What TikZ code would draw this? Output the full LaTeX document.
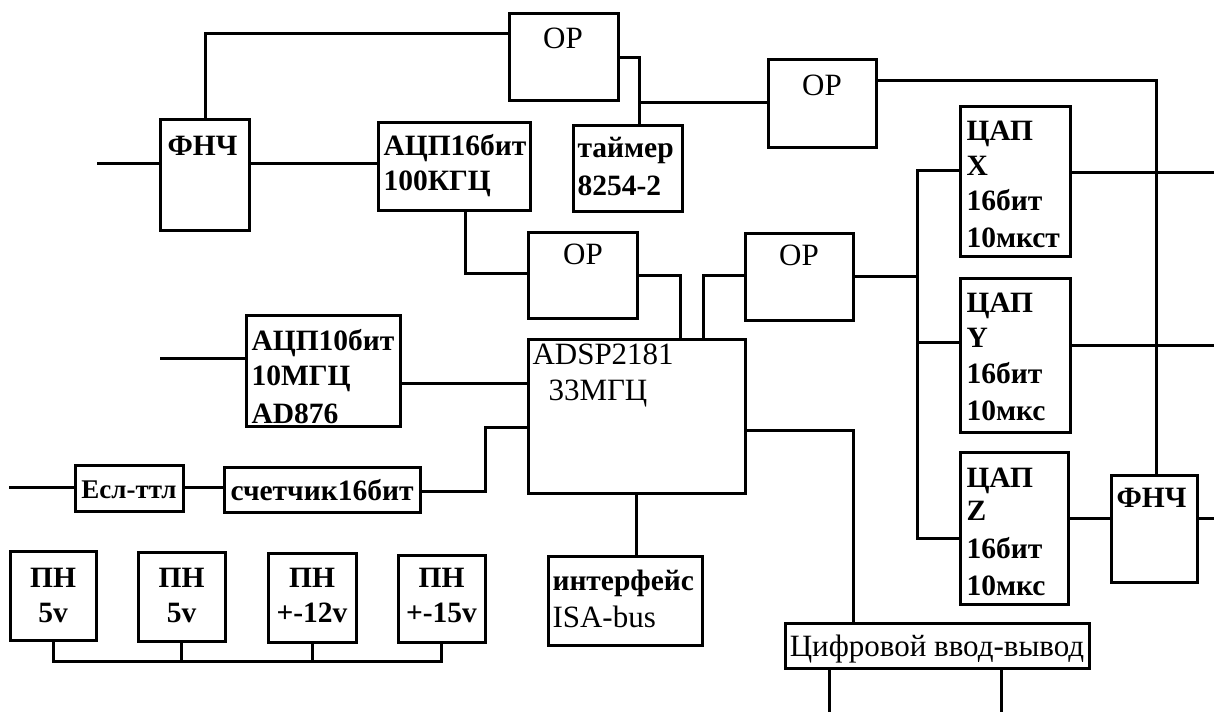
\documentclass[tikz,border=0pt]{standalone}
\usepackage{fontspec}
\setmainfont{Liberation Serif}
\newcommand\mybox[5]{\node[box,anchor=north west,minimum width={(#4-#2)*1pt},minimum height={(#5-#3)*1pt}] (#1) at (#2,#3) {};}
\begin{document}
\begin{tikzpicture}[x=1pt,y=-1pt,line width=3pt,
  box/.style={draw,line width=3pt,inner sep=0pt,outer sep=0pt},
  lbl/.style={inner sep=0pt,font=\fontsize{31}{36}\selectfont},
  blbl/.style={inner sep=0pt,font=\fontsize{29.5}{36}\selectfont\bfseries}]
\useasboundingbox (0,0) rectangle (1214,712);
% boxes
\mybox{op1}{509}{13}{618}{100}
\mybox{op2}{768}{59}{876}{147}
\mybox{op3}{528}{232}{637}{318}
\mybox{op4}{745}{233}{853}{320}
\mybox{fnch1}{160}{119}{249}{230}
\mybox{adc16}{378}{122}{530}{210}
\mybox{timer}{573}{125}{682}{211}
\mybox{dacx}{960}{106}{1070}{256}
\mybox{dacy}{960}{278}{1070}{432}
\mybox{dacz}{960}{452}{1068}{604}
\mybox{fnch2}{1111}{475}{1197}{582}
\mybox{adc10}{246}{315}{400}{426}
\mybox{adsp}{528}{339}{745}{493}
\mybox{ecl}{75}{465}{183}{511}
\mybox{counter}{224}{467}{420}{512}
\mybox{pn1}{10}{551}{96}{640}
\mybox{pn2}{138}{552}{225}{641}
\mybox{pn3}{268}{553}{356}{642}
\mybox{pn4}{398}{555}{485}{642}
\mybox{iface}{548}{556}{702}{645}
\mybox{digio}{785}{623}{1089}{668}
% texts
\node[lbl,anchor=base] (op1t) at (563,48) {OP};
\node[lbl,anchor=base] (op2t) at (822,95) {OP};
\node[lbl,anchor=base] (op3t) at (583,264) {OP};
\node[lbl,anchor=base] (op4t) at (799,265) {OP};
\node[blbl,anchor=base west] (fnch1t) at (166,155) {ФНЧ};
\node[blbl,anchor=base west] (adc16a) at (382,155) {АЦП16бит};
\node[blbl,anchor=base west] (adc16b) at (382,190) {100КГЦ};
\node[blbl,anchor=base west] (timera) at (576,157) {таймер};
\node[blbl,anchor=base west] (timerb) at (576,195) {8254-2};
\node[blbl,anchor=base west] (dacxa) at (965,140) {ЦАП};
\node[blbl,anchor=base west] (dacxb) at (965,175) {X};
\node[blbl,anchor=base west] (dacxc) at (965,210) {16бит};
\node[blbl,anchor=base west] (dacxd) at (965,247) {10мкст};
\node[blbl,anchor=base west] (dacya) at (965,312) {ЦАП};
\node[blbl,anchor=base west] (dacyb) at (965,347) {Y};
\node[blbl,anchor=base west] (dacyc) at (965,383) {16бит};
\node[blbl,anchor=base west] (dacyd) at (965,420) {10мкс};
\node[blbl,anchor=base west] (dacza) at (965,487) {ЦАП};
\node[blbl,anchor=base west] (daczb) at (965,520) {Z};
\node[blbl,anchor=base west] (daczc) at (965,558) {16бит};
\node[blbl,anchor=base west] (daczd) at (965,595) {10мкс};
\node[blbl,anchor=base west] (fnch2t) at (1115,507) {ФНЧ};
\node[blbl,anchor=base west] (adc10a) at (250,350) {АЦП10бит};
\node[blbl,anchor=base west] (adc10b) at (250,385) {10МГЦ};
\node[blbl,anchor=base west] (adc10c) at (250,423) {AD876};
\node[lbl,anchor=base west] (adspa) at (531,364) {ADSP2181};
\node[lbl,anchor=base west] (adspb) at (547,400) {33МГЦ};
\node[blbl,anchor=base,font=\fontsize{27}{36}\selectfont\bfseries] (eclt) at (129,498) {Есл-ттл};
\node[blbl,anchor=base west] (countert) at (229,500) {счетчик16бит};
\node[blbl,anchor=base] (pn1a) at (53,587) {ПН};
\node[blbl,anchor=base] (pn1b) at (53,622) {5v};
\node[blbl,anchor=base] (pn2a) at (181.5,587) {ПН};
\node[blbl,anchor=base] (pn2b) at (181.5,622) {5v};
\node[blbl,anchor=base] (pn3a) at (312,587) {ПН};
\node[blbl,anchor=base] (pn3b) at (312,622) {+-12v};
\node[blbl,anchor=base] (pn4a) at (441.5,587) {ПН};
\node[blbl,anchor=base] (pn4b) at (441.5,622) {+-15v};
\node[blbl,anchor=base west] (ifacea) at (551,590) {интерфейс};
\node[lbl,anchor=base west] (ifaceb) at (551,627) {ISA-bus};
\node[lbl,anchor=base] (digiot) at (937,656) {Цифровой ввод-вывод};
% coordinates
\coordinate (in1) at (97,163);
\coordinate (in2) at (160,358);
\coordinate (in3) at (9,487);
\coordinate (j1) at (639,102);
\coordinate (busT) at (917,170);
\coordinate (busY) at (917,342);
\coordinate (busB) at (917,538);
\coordinate (busIn) at (917,276);
\coordinate (oX) at (1214,172);
\coordinate (oY) at (1214,345);
\coordinate (oF) at (1214,518);
\coordinate (d1) at (829,712);
\coordinate (d2) at (1001,712);
\coordinate (pnl) at (53,661);
\coordinate (cb1) at (485,491);
\coordinate (cb2) at (485,427);
% wires
\draw (in1) -- (fnch1.west |- in1);
\draw (fnch1.east |- in1) -- (adc16.west |- in1);
\draw (fnch1.north -| 205,0) |- (op1.west |- 0,33);
\draw (op1.east |- 0,57) -| (timer.north -| 639,0);
\draw (j1) -- (op2.west |- j1);
\draw (op2.east |- 0,80) -| (fnch2.north -| 1156,0);
\draw (adc16.south -| 465,0) |- (op3.west |- 0,273);
\draw (op3.east |- 0,275) -| (adsp.north -| 680,0);
\draw (adsp.north -| 703,0) |- (op4.west |- 0,275);
\draw (op4.east |- busIn) -- (busIn);
\draw (dacx.west |- busT) -- (busT) -- (busB) -- (dacz.west |- busB);
\draw (busY) -- (dacy.west |- busY);
\draw (dacx.east |- oX) -- (oX);
\draw (dacy.east |- oY) -- (oY);
\draw (dacz.east |- oF) -- (fnch2.west |- oF);
\draw (fnch2.east |- oF) -- (oF);
\draw (in2) -- (adc10.west |- in2);
\draw (adc10.east |- 0,383) -- (adsp.west |- 0,383);
\draw (in3) -- (ecl.west |- in3);
\draw (ecl.east |- in3) -- (counter.west |- in3);
\draw (counter.east |- cb1) -- (cb1) -- (cb2) -- (adsp.west |- cb2);
\draw (adsp.south -| 636,0) -- (iface.north -| 636,0);
\draw (adsp.east |- 0,430) -| (digio.north -| 853,0);
\draw (digio.south -| d1) -- (d1);
\draw (digio.south -| d2) -- (d2);
\draw (pn1.south) |- (pn4.south |- pnl) -- (pn4.south);
\draw (pn2.south) -- (pn2.south |- pnl);
\draw (pn3.south) -- (pn3.south |- pnl);
\end{tikzpicture}
\end{document}
